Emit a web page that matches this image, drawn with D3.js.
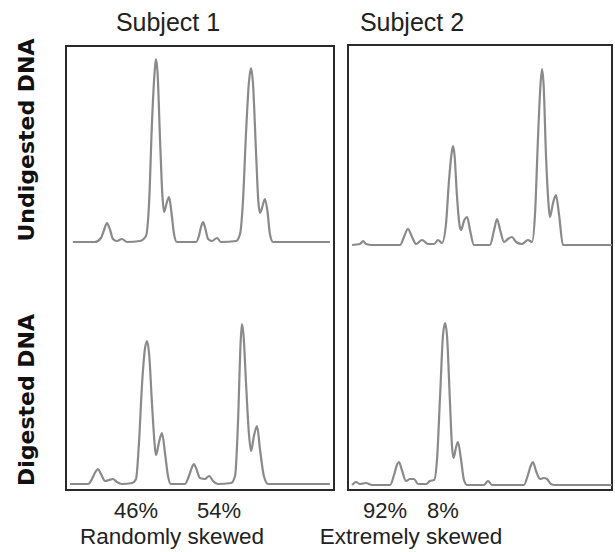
<!DOCTYPE html>
<html>
<head>
<meta charset="utf-8">
<script src="https://cdn.jsdelivr.net/npm/d3@7"></script>
<style>
  body { margin: 0; background: #fff; }
  svg { display: block; }
</style>
</head>
<body>
<script>
// column / row labels
var subjects = ["Subject 1", "Subject 2"];
var rowLabels = ["Undigested DNA", "Digested DNA"];
var percentLabels = [["46%", "54%"], ["92%", "8%"]];
var skewLabels = ["Randomly skewed", "Extremely skewed"];

// traces: [relative size (0-100), signal]
var undigested1 = [[1.1,0],[9.5,0],[11.8,4],[13.0,12],[14.1,19],[15.3,12],[16.4,3],[17.9,1],[19.8,3],[21.8,0],
  [26.7,1],[29.0,6],[30.2,40],[31.3,120],[32.3,170],[32.8,183],[33.4,170],[34.4,100],[35.3,45],[35.9,30],
  [36.8,38],[37.8,45],[38.7,30],[39.7,8],[40.8,0],[48.1,0],[49.2,6],[50.0,15],[50.8,20],[51.5,15],[52.7,3],
  [54.2,1],[56.1,4],[57.6,0],[63.4,1],[64.9,8],[66.0,40],[67.2,110],[68.3,160],[69.1,174],[69.8,160],
  [71.0,90],[71.9,40],[72.5,29],[73.5,36],[74.4,43],[75.4,30],[76.3,8],[77.5,0],[99.2,0]];

var undigested2 = [[0.8,0],[3.8,1],[5.0,4],[6.1,1],[8.4,0],[19.1,0],[20.6,8],[22.1,16],[23.7,8],[25.2,1],
  [27.5,5],[29.8,1],[32.1,1],[33.6,5],[35.1,2],[36.6,20],[37.8,65],[38.7,90],[39.3,99],[39.9,90],[40.8,50],
  [41.8,20],[42.4,15],[43.5,24],[44.7,28],[45.8,15],[47.3,0],[53.4,0],[55.0,15],[56.1,26],[57.3,15],[58.8,3],
  [60.3,6],[61.8,8],[63.4,3],[65.6,1],[67.9,5],[69.5,3],[70.6,30],[71.8,110],[72.7,160],[73.3,176],[73.9,160],
  [74.8,90],[75.8,40],[76.3,28],[77.5,42],[78.6,50],[79.8,30],[81.3,0],[100,0]];

var digested1 = [[0,0],[6.9,0],[8.4,5],[9.5,11],[10.7,15],[11.8,10],[13.4,3],[14.9,4],[16.4,5],[17.9,2],
  [19.8,0],[23.7,1],[25.2,5],[26.3,40],[27.5,100],[28.6,135],[29.4,143],[30.2,130],[31.3,80],[32.3,40],
  [32.8,29],[34.0,42],[35.1,51],[36.3,30],[37.4,8],[38.5,0],[43.9,0],[45.4,8],[46.6,17],[47.3,20],[48.1,16],
  [49.6,6],[51.5,5],[53.1,8],[54.6,3],[56.5,0],[61.5,1],[63.0,8],[64.1,60],[65.1,140],[65.6,160],[66.2,150],
  [67.2,100],[68.3,50],[69.1,33],[70.2,48],[71.4,58],[72.5,35],[74.0,8],[75.6,0],[99.2,0]];

var digested2 = [[0.8,0],[2.3,3],[3.8,1],[6.1,2],[8.4,0],[15.3,0],[16.8,10],[17.9,20],[18.7,23],[19.8,15],
  [21.4,4],[22.9,6],[24.4,6],[26.0,1],[29.0,1],[30.5,4],[32.1,5],[33.2,25],[34.4,90],[35.5,150],[36.3,162],
  [37.0,150],[38.2,80],[38.9,40],[39.5,27],[40.5,38],[41.2,43],[42.4,25],[43.5,5],[44.7,0],[51.1,0],
  [52.7,4],[54.2,0],[66.4,0],[67.9,10],[69.1,20],[69.8,23],[71.0,14],[72.5,6],[74.0,7],[75.2,6],[76.7,1],
  [78.2,0],[100,0]];

var traces = [[undigested1, undigested2], [digested1, digested2]];

var width = 615, height = 552;
var svg = d3.select("body").append("svg")
  .attr("width", width)
  .attr("height", height);

// layout
var cols = [
  { box: [66, 46, 334, 490], range: [70, 332], titleX: 168, pctX: [136, 219], skewX: 172 },
  { box: [348, 45, 612, 490], range: [350, 612], titleX: 412, pctX: [385, 443], skewX: 411 }
];
var baselines = [[242, 245], [484, 485]];
var rowCenters = [140, 400];

// panel frames
cols.forEach(function(c) {
  svg.append("rect")
    .attr("x", c.box[0]).attr("y", c.box[1])
    .attr("width", c.box[2] - c.box[0])
    .attr("height", c.box[3] - c.box[1])
    .attr("fill", "none")
    .attr("stroke", "#2a2a2a")
    .attr("stroke-width", 2);
});

// traces
traces.forEach(function(row, r) {
  row.forEach(function(data, c) {
    var x = d3.scaleLinear().domain([0, 100]).range(cols[c].range);
    var y = d3.scaleLinear().domain([0, 200]).range([baselines[r][c], baselines[r][c] - 200]);
    var line = d3.line()
      .x(function(d) { return x(d[0]); })
      .y(function(d) { return y(d[1]); })
      .curve(d3.curveMonotoneX);
    svg.append("path")
      .datum(data)
      .attr("d", line)
      .attr("fill", "none")
      .attr("stroke", "#8a8a8a")
      .attr("stroke-width", 2.2)
      .attr("stroke-linejoin", "round");
  });
});

// titles
svg.selectAll(".title")
  .data(subjects)
  .enter().append("text")
  .attr("class", "title")
  .attr("x", function(d, i) { return cols[i].titleX; })
  .attr("y", 31)
  .attr("text-anchor", "middle")
  .attr("font-family", "Liberation Sans, Arial, sans-serif")
  .attr("font-size", 25)
  .attr("fill", "#222")
  .text(function(d) { return d; });

// row labels
svg.selectAll(".rowlabel")
  .data(rowLabels)
  .enter().append("text")
  .attr("class", "rowlabel")
  .attr("transform", function(d, i) { return "translate(34," + rowCenters[i] + ") rotate(-90)"; })
  .attr("text-anchor", "middle")
  .attr("font-family", "DejaVu Sans, sans-serif")
  .attr("font-weight", "bold")
  .attr("font-size", 22)
  .attr("fill", "#111")
  .text(function(d) { return d; });

// percentages
percentLabels.forEach(function(pair, c) {
  pair.forEach(function(p, k) {
    svg.append("text")
      .attr("x", cols[c].pctX[k])
      .attr("y", 518)
      .attr("text-anchor", "middle")
      .attr("font-family", "Liberation Sans, Arial, sans-serif")
      .attr("font-size", 22)
      .attr("fill", "#222")
      .text(p);
  });
});

svg.selectAll(".skew")
  .data(skewLabels)
  .enter().append("text")
  .attr("class", "skew")
  .attr("x", function(d, i) { return cols[i].skewX; })
  .attr("y", 544)
  .attr("text-anchor", "middle")
  .attr("font-family", "Liberation Sans, Arial, sans-serif")
  .attr("font-size", 22.5)
  .attr("fill", "#222")
  .text(function(d) { return d; });
</script>
</body>
</html>
